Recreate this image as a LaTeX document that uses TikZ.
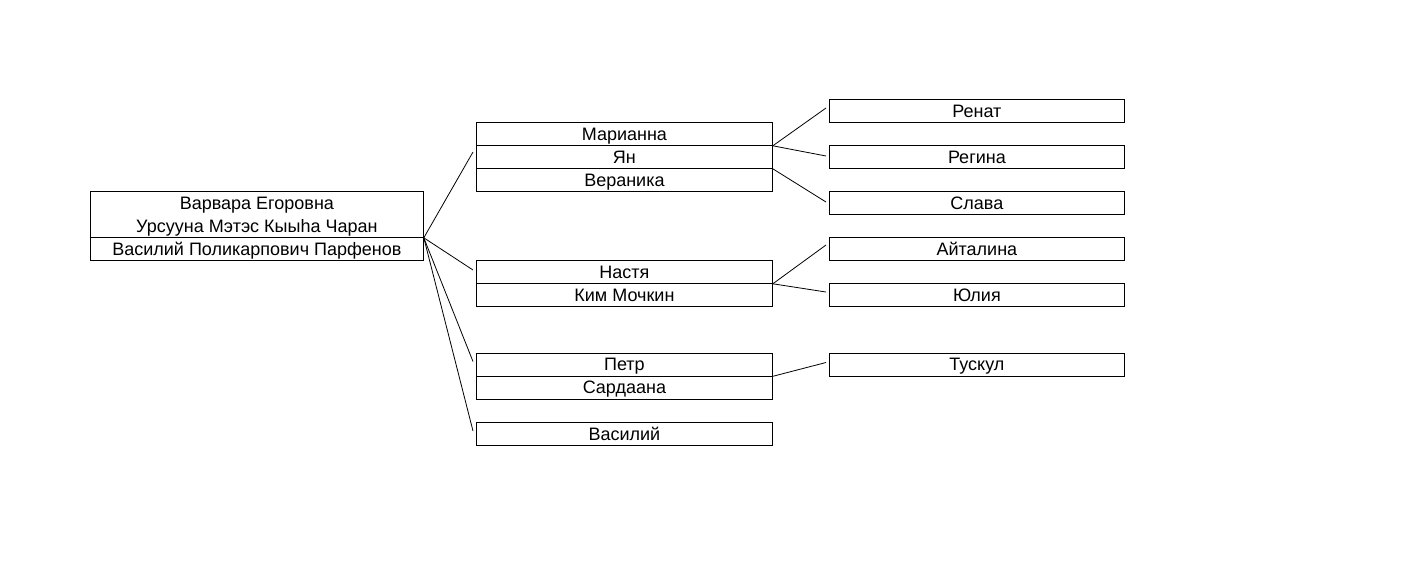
\documentclass[tikz,border=0pt]{standalone}
\usepackage{fontspec}
\setmainfont{Liberation Sans}

\begin{document}
\begin{tikzpicture}[x=1pt, y=-1pt, line width=0.8pt,
    cell/.style={draw, anchor=north west, inner sep=0pt, minimum width=296, minimum height=23,
      text height=13pt, text depth=0pt},
    font=\fontsize{18}{23}\selectfont]
  \useasboundingbox (0,0) rectangle (1408,571);

  % root couple
  \node[cell, minimum width=333, minimum height=46, align=center, text height=36pt] (rootA) at (90,191)
    {Варвара Егоровна\\Урсууна Мэтэс Кыыhа Чаран};
  \node[cell, minimum width=333] (rootB) at (90,237) {Василий Поликарпович Парфенов};

  % children
  \foreach \name/\txt/\y in {mar/Марианна/122, yan/Ян/145, ver/Вераника/168,
      nas/Настя/260, kim/Ким Мочкин/283, pet/Петр/352.5, sar/Сардаана/375.5, vas/Василий/422} {
    \node[cell] (\name) at (476,\y) {\txt};
  }

  % grandchildren
  \foreach \name/\txt/\y in {ren/Ренат/99, reg/Регина/145, sla/Слава/191,
      ayt/Айталина/237, yul/Юлия/283, tus/Тускул/352.5} {
    \node[cell, minimum width=295] (\name) at (829,\y) {\txt};
  }

  % links
  \foreach \a/\b/\d in {rootA/yan/7, rootA/nas/10, rootA/pet/9, rootA/vas/9,
      mar/ren/9, mar/reg/11, yan/sla/11, nas/ayt/8, nas/yul/9, pet/tus/10} {
    \draw (\a.south east) -- ([shift={(-3,\d)}]\b.north west);
  }
\end{tikzpicture}
\end{document}
